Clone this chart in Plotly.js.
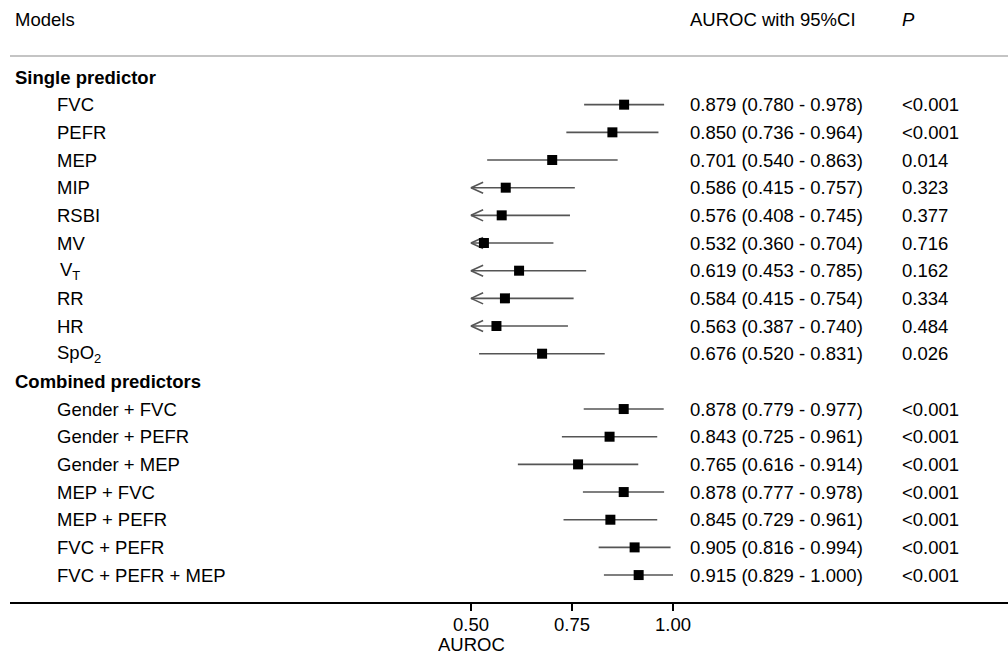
<!DOCTYPE html>
<html>
<head>
<meta charset="utf-8">
<script src="https://cdn.plot.ly/plotly-3.0.1.min.js"></script>
<style>html,body{margin:0;padding:0;background:#fff;}#chart{width:1008px;height:654px;}</style>
</head>
<body>
<div id="chart"></div>
<script>
// ---- Data ----
const groupSingle = "Single predictor";
const groupCombined = "Combined predictors";
const singleModels = ["FVC", "PEFR", "MEP", "MIP", "RSBI", "MV", "V<sub>T</sub>", "RR", "HR", "SpO<sub>2</sub>"];
const singleAUROC = [0.879, 0.850, 0.701, 0.586, 0.576, 0.532, 0.619, 0.584, 0.563, 0.676];
const singleLower = [0.780, 0.736, 0.540, 0.415, 0.408, 0.360, 0.453, 0.415, 0.387, 0.520];
const singleUpper = [0.978, 0.964, 0.863, 0.757, 0.745, 0.704, 0.785, 0.754, 0.740, 0.831];
const singleP = ["<0.001", "<0.001", "0.014", "0.323", "0.377", "0.716", "0.162", "0.334", "0.484", "0.026"];

const combinedModels = ["Gender + FVC", "Gender + PEFR", "Gender + MEP", "MEP + FVC", "MEP + PEFR", "FVC + PEFR", "FVC + PEFR + MEP"];
const combinedAUROC = [0.878, 0.843, 0.765, 0.878, 0.845, 0.905, 0.915];
const combinedLower = [0.779, 0.725, 0.616, 0.777, 0.729, 0.816, 0.829];
const combinedUpper = [0.977, 0.961, 0.914, 0.978, 0.961, 0.994, 1.000];
const combinedP = ["<0.001", "<0.001", "<0.001", "<0.001", "<0.001", "<0.001", "<0.001"];

const tickVals = [0.50, 0.75, 1.00];
const tickText = ["0.50", "0.75", "1.00"];

// ---- Layout constants ----
const axisMin = 0.5;          // lower clip of the plotted scale
const W = 1008, H = 654, ML = 10, MR = 0, MT = 0, MB = 52;
const FS = 18.5;
const FONT = "Liberation Sans, Arial, sans-serif";
const pxX = v => (v - 2 - ML) / (W - ML - MR);   // pixel -> paper x (annotation pad compensated)

// Build rows
const rows = [];
rows.push({type: "group", label: groupSingle});
singleModels.forEach((m, i) => rows.push({type: "item", label: m, est: singleAUROC[i], lo: singleLower[i], hi: singleUpper[i], p: singleP[i]}));
rows.push({type: "group", label: groupCombined});
combinedModels.forEach((m, i) => rows.push({type: "item", label: m, est: combinedAUROC[i], lo: combinedLower[i], hi: combinedUpper[i], p: combinedP[i]}));

const lineX = [], lineY = [], ptX = [], ptY = [], arrX = [], arrY = [];
const annotations = [];
const arrowDx = 0.03, arrowDy = 0.2;

rows.forEach((r, k) => {
  if (r.type === "group") {
    annotations.push({xref: "paper", yref: "y", x: pxX(15), y: k, xanchor: "left", yanchor: "middle",
      text: "<b>" + r.label + "</b>", showarrow: false, font: {family: FONT, size: FS, color: "#000"}});
    return;
  }
  const lo = Math.max(r.lo, axisMin);
  lineX.push(lo, r.hi, null); lineY.push(k, k, null);
  ptX.push(r.est); ptY.push(k);
  if (r.lo < axisMin) {
    arrX.push(axisMin + arrowDx, axisMin, axisMin + arrowDx, null);
    arrY.push(k - arrowDy, k, k + arrowDy, null);
  }
  const labX = r.label.indexOf("<sub>T") >= 0 ? 60 : 57;
  annotations.push({xref: "paper", yref: "y", x: pxX(labX), y: k, xanchor: "left", yanchor: "middle",
    text: r.label, showarrow: false, font: {family: FONT, size: FS, color: "#000"}});
  annotations.push({xref: "paper", yref: "y", x: pxX(690), y: k, xanchor: "left", yanchor: "middle",
    text: r.est.toFixed(3) + " (" + r.lo.toFixed(3) + " - " + r.hi.toFixed(3) + ")", showarrow: false,
    font: {family: FONT, size: FS, color: "#000"}});
  annotations.push({xref: "paper", yref: "y", x: pxX(902), y: k, xanchor: "left", yanchor: "middle",
    text: r.p, showarrow: false, font: {family: FONT, size: FS, color: "#000"}});
});

// Header
const hdrY = 1 - (20 - MT) / (H - MT - MB);
annotations.push({xref: "paper", yref: "paper", x: pxX(15), y: hdrY, xanchor: "left", yanchor: "middle",
  text: "Models", showarrow: false, font: {family: FONT, size: FS, color: "#000"}});
annotations.push({xref: "paper", yref: "paper", x: pxX(690), y: hdrY, xanchor: "left", yanchor: "middle",
  text: "AUROC with 95%CI", showarrow: false, font: {family: FONT, size: FS, color: "#000"}});
annotations.push({xref: "paper", yref: "paper", x: pxX(902), y: hdrY, xanchor: "left", yanchor: "middle",
  text: "<i>P</i>", showarrow: false, font: {family: FONT, size: FS, color: "#000"}});
// Axis title (centred under the 0.50 tick)
annotations.push({xref: "x", yref: "paper", x: 0.5, y: -(644 - (H - MB)) / (H - MT - MB), xanchor: "center", yanchor: "middle",
  height: 18, borderpad: 0, valign: "middle",
  text: "AUROC", showarrow: false, font: {family: FONT, size: FS, color: "#000"}});

const pxPerRow = 27.67;
const y0px = 77; // pixel of row 0
const yTop = (MT - y0px) / pxPerRow;
const yBot = (H - MB - y0px) / pxPerRow;
const xLeft = 0.5 - (471 - ML) / 404;
const xRight = 0.5 + (W - MR - 471) / 404;

const traces = [
  {x: lineX, y: lineY, mode: "lines", line: {color: "#555", width: 1.6}, hoverinfo: "skip", showlegend: false},
  {x: arrX, y: arrY, mode: "lines", line: {color: "#555", width: 1.6}, hoverinfo: "skip", showlegend: false},
  {x: ptX, y: ptY, mode: "markers", marker: {symbol: "square", size: 10, color: "#000"}, showlegend: false}
];

const layout = {
  width: W, height: H,
  margin: {l: ML, r: MR, t: MT, b: MB, pad: 0},
  paper_bgcolor: "#fff", plot_bgcolor: "#fff",
  font: {family: FONT, size: FS, color: "#000"},
  showlegend: false,
  xaxis: {range: [xLeft, xRight], tickvals: tickVals, ticktext: tickText, showgrid: false, zeroline: false,
    showline: true, linecolor: "#000", linewidth: 2, ticks: "outside", ticklen: 7, tickwidth: 2, tickcolor: "#000",
    ticklabelstandoff: -2,
    tickfont: {family: FONT, size: FS, color: "#000"}, fixedrange: true},
  yaxis: {range: [yBot, yTop], visible: false, fixedrange: true},
  shapes: [
    {type: "line", xref: "paper", yref: "paper", x0: 0, x1: 1, y0: 1 - 56 / (H - MT - MB), y1: 1 - 56 / (H - MT - MB),
      line: {color: "#b0b0b0", width: 1.5}}
  ],
  annotations: annotations
};

Plotly.newPlot("chart", traces, layout, {displayModeBar: false, staticPlot: true});
</script>
</body>
</html>
